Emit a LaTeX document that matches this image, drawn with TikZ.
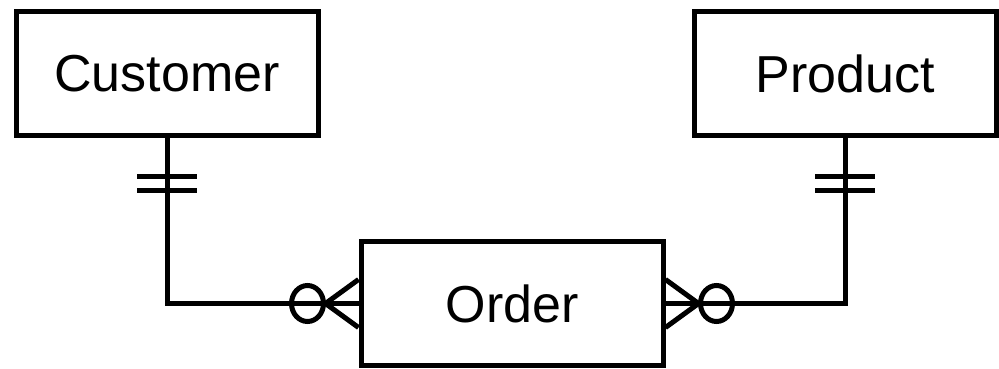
\documentclass[tikz,border=0pt]{standalone}
\usepackage{fontspec}
\setmainfont{Liberation Sans}
\begin{document}
\begin{tikzpicture}[x=1pt,y=-1pt,line width=5pt,
    entity/.style={draw, minimum width=302pt, minimum height=124pt, inner sep=0pt, font=\fontsize{52}{60}\selectfont}]
    % Canvas
    \useasboundingbox (0,0) rectangle (999,369);

    % Entities
    \node[entity] (Customer) at (167,73.5) {Customer};
    \node[entity] (Product) at (845,73.5) {Product};
    \node[entity] (Order) at (512,303.5) {Order};

    % Relationship lines
    \draw (Customer.south) |- (Order.west);
    \draw (Product.south) |- (Order.east);

    % Exactly one: Customer and Product ends
    \draw (Customer.south) ++(-30,38) -- ++(60,0);
    \draw (Customer.south) ++(-30,52) -- ++(60,0);
    \draw (Product.south) ++(-30,38) -- ++(60,0);
    \draw (Product.south) ++(-30,52) -- ++(60,0);

    % Zero or many: Order ends
    \draw (Order.west) ++(0,-24) -- ++(-33,24) -- ++(33,24);
    \draw (Order.west) ++(-51,0) ellipse [x radius=16, y radius=18];
    \draw (Order.east) ++(0,-24) -- ++(33,24) -- ++(-33,24);
    \draw (Order.east) ++(51,0) ellipse [x radius=16, y radius=18];
\end{tikzpicture}
\end{document}
